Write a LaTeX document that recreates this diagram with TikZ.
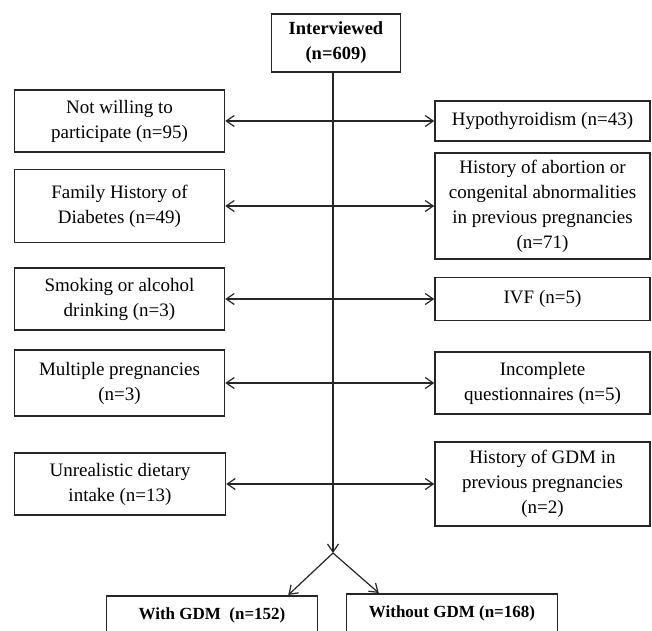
\documentclass[tikz,border=0pt]{standalone}
\usepackage{fontspec}
\setmainfont{Liberation Serif}
\usetikzlibrary{arrows.meta}
\begin{document}
\begin{tikzpicture}[x=1pt,y=-1pt,
  box/.style={draw=black!85,line width=1.5pt,align=center,inner sep=0pt,
    font=\fontsize{19}{25}\selectfont},
  lbox/.style={box,minimum width=210pt},
  rbox/.style={box,minimum width=215pt},
  bbox/.style={box,minimum width=211pt,minimum height=42pt,text depth=7pt,
    font=\fontsize{17}{22}\selectfont\bfseries},
  arr/.style={draw=black!85,line width=1.2pt,-{Straight Barb[length=8pt,width=11pt]}},
  dbl/.style={draw=black!85,line width=1.2pt,{Straight Barb[length=8pt,width=11pt]}-{Straight Barb[length=8pt,width=11pt]}}
]
\useasboundingbox (0,0) rectangle (652,630);
\clip (0,0) rectangle (652,630);
\fill[white] (0,0) rectangle (652,630);

\node[box,minimum width=129pt,minimum height=58pt,font=\fontsize{18.5}{25}\selectfont\bfseries] (top) at (336,43) {Interviewed\\(n=609)};

\node[lbox,minimum height=62pt] (L1) at (119.5,121) {Not willing to\\participate (n=95)};
\node[rbox,minimum height=40pt] (R1) at (542.5,121) {Hypothyroidism (n=43)};

\node[lbox,minimum height=73pt] (L2) at (119.5,206) {Family History of\\Diabetes (n=49)};
\node[rbox,minimum height=106pt] (R2) at (542.5,206) {History of abortion or\\congenital abnormalities\\in previous pregnancies\\(n=71)};

\node[lbox,minimum height=62pt] (L3) at (119.5,299) {Smoking or alcohol\\drinking (n=3)};
\node[rbox,minimum height=43pt] (R3) at (542.5,299) {IVF (n=5)};

\node[lbox,minimum height=66pt] (L4) at (119.5,383) {Multiple pregnancies\\(n=3)};
\node[rbox,minimum height=62pt] (R4) at (542.5,383) {Incomplete\\questionnaires (n=5)};

\node[lbox,minimum width=211pt,minimum height=62pt] (L5) at (120,484) {Unrealistic dietary\\intake (n=13)};
\node[rbox,minimum height=84pt] (R5) at (542.5,484) {History of GDM in\\previous pregnancies\\(n=2)};

\node[bbox,anchor=north] (B1) at (212,595) {With GDM\ \ (n=152)};
\node[bbox,anchor=north] (B2) at (452,593) {Without GDM (n=168)};

\coordinate (stem) at ([xshift=-3pt]top.south);
\coordinate (split) at (stem |- 0,553);

\draw[dbl] (L1.east) -- (L1.east -| R1.west);
\draw[dbl] (L2.east) -- (L2.east -| R2.west);
\draw[dbl] (L3.east) -- (L3.east -| R3.west);
\draw[dbl] (L4.east) -- (L4.east -| R4.west);
\draw[dbl] (L5.east) -- (L5.east -| R5.west);

\draw[arr] (stem) -- (split);
\draw[arr] (split) -- ([xshift=-30pt]B1.north east);
\draw[arr] (split) -- ([xshift=33pt]B2.north west);
\end{tikzpicture}
\end{document}
